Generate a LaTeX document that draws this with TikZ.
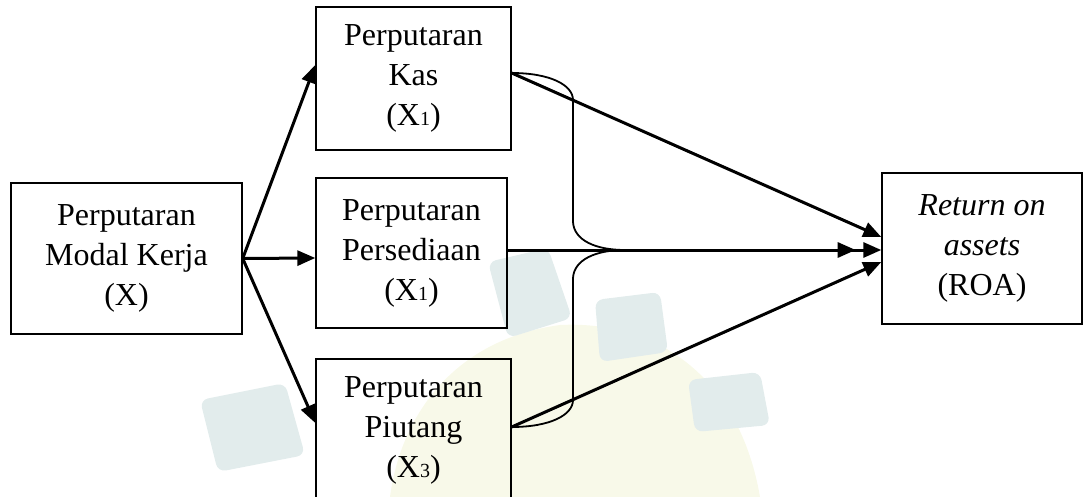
\documentclass[tikz,border=0pt]{standalone}
\usepackage{fontspec}
\setmainfont{Liberation Serif}
\usetikzlibrary{arrows.meta,decorations.markings}
\definecolor{wmteal}{RGB}{226,236,236}
\definecolor{wmyel}{RGB}{248,249,233}
\newcommand{\subn}[1]{{\fontsize{20}{20}\selectfont #1}}
\begin{document}
\begin{tikzpicture}[x=1pt,y=-1pt,
  box/.style={draw, line width=1.4pt, inner sep=0pt, align=center, font=\fontsize{32}{40}\selectfont},
  arr/.style={line width=3pt, -{Triangle[length=18pt,width=15pt]}},
  bracepath/.style={line width=1.8pt},
  wm/.style={draw=none}]
\useasboundingbox (0,0) rectangle (1083,497);
% faint watermark
\fill[wmyel] (390,497) .. controls (400,420) and (450,340) .. (560,325) .. controls (660,320) and (740,380) .. (760,497) -- cycle;
\fill[wmteal, rounded corners=8pt] (200,400) -- (285,383) -- (305,455) -- (218,472) -- cycle;
\fill[wmteal, rounded corners=8pt] (488,262) -- (548,248) -- (572,318) -- (508,338) -- cycle;
\fill[wmteal, rounded corners=8pt] (595,300) -- (660,292) -- (668,352) -- (600,362) -- cycle;
\fill[wmteal, rounded corners=8pt] (688,380) -- (760,372) -- (770,425) -- (695,432) -- cycle;
% boxes
\node[box, minimum width=231pt, minimum height=151pt] (mk) at (126.5,258.5) {Perputaran\\Modal Kerja\\(X)};
\node[box, minimum width=195pt, minimum height=143pt] (kas) at (413.5,78.5) {Perputaran\\Kas\\(X\subn{1})};
\node[box, minimum width=191pt, minimum height=150pt] (pers) at (411.5,253) {Perputaran\\Persediaan\\(X\subn{1})};
\node[box, minimum width=195pt, minimum height=142pt] (piut) at (413.5,430) {Perputaran\\Piutang\\(X\subn{3})};
\node[box, minimum width=200pt, minimum height=151pt] (roa) at (982,248.5) {\itshape Return on\\\itshape assets\\(ROA)};
% left arrows
\draw[arr] (mk.east) -- ([yshift=13.5pt]kas.west);
\draw[arr] (mk.east) -- ([yshift=-5pt]pers.west);
\draw[arr] (mk.east) -- ([yshift=7pt]piut.west);
% brace
\coordinate (tip) at (637,250);
\draw[bracepath] ([yshift=5.5pt]kas.east) .. controls (550,73) and (573,85) .. (573,100) -- (573,222) .. controls (574,240) and (595,250) .. (625,250) -- (tip);
\draw[bracepath] ([yshift=3pt]piut.east) .. controls (550,427) and (573,415) .. (573,400) -- (573,278) .. controls (574,260) and (595,250) .. (625,250) -- (tip);
% right arrows
\draw[arr] ([yshift=5.5pt]kas.east) -- ([yshift=11.5pt]roa.west);
\draw[arr, postaction={decorate}, decoration={markings, mark=at position 348pt with {\arrow{Triangle[length=18pt,width=15pt]}}}] ([yshift=3pt]pers.east) -- ([yshift=-1.5pt]roa.west);
\draw[arr] ([yshift=3pt]piut.east) -- ([yshift=-13.5pt]roa.west);
\end{tikzpicture}
\end{document}
